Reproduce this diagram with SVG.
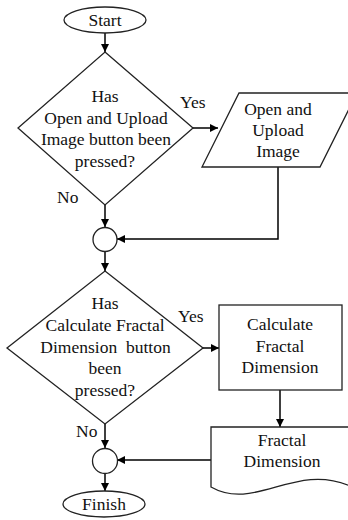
<svg xmlns="http://www.w3.org/2000/svg" width="348" height="520" viewBox="0 0 348 520">
<defs>
<marker id="ah" viewBox="0 0 10 10" refX="10" refY="5" markerWidth="9" markerHeight="8" markerUnits="userSpaceOnUse" orient="auto">
<path d="M0,0 L10,5 L0,10 z" fill="#000"/>
</marker>
<style>
.s{fill:#fff;stroke:#222;stroke-width:1.3}
.c{fill:none;stroke:#000;stroke-width:1.5;marker-end:url(#ah)}
text{font-family:'Liberation Serif',serif;font-size:17.5px;fill:#111}
.m{text-anchor:middle}
</style>
</defs>
<rect width="348" height="520" fill="#fff"/>
<g id="connectors">
<path class="c" d="M105,33 V52"/>
<path class="c" d="M193,128 H218"/>
<path class="c" d="M105,205 V227"/>
<path class="c" d="M278,167 V239 H117"/>
<path class="c" d="M105,251 V271"/>
<path class="c" d="M203,348 H219"/>
<path class="c" d="M280,390 V427"/>
<path class="c" d="M105,424 V448"/>
<path class="c" d="M211,460 H117"/>
<path class="c" d="M105,473 V491"/>
</g>
<g id="start">
<ellipse class="s" cx="105" cy="20" rx="41" ry="13"/>
<text class="m" x="105" y="26">Start</text>
</g>
<g id="decision1">
<polygon class="s" points="105,52 193,128 105,205 18,128"/>
<text class="m" x="105" y="102">Has</text>
<text class="m" x="106" y="123.5">Open and Upload</text>
<text class="m" x="106" y="145">Image button been</text>
<text class="m" x="105" y="166.5">pressed?</text>
</g>
<text x="180" y="108">Yes</text>
<text x="57" y="203">No</text>
<g id="openUpload">
<polygon class="s" points="239,93 357,93 320,167 202,167"/>
<text class="m" x="278" y="115">Open and</text>
<text class="m" x="278" y="136">Upload</text>
<text class="m" x="278" y="157">Image</text>
</g>
<g id="merge1">
<circle class="s" cx="105" cy="239.5" r="12"/>
</g>
<g id="decision2">
<polygon class="s" points="105,271 203,348 105,424 7,348"/>
<text class="m" x="105" y="309">Has</text>
<text class="m" x="105" y="331">Calculate Fractal</text>
<text class="m" x="105.5" y="352.5">Dimension&#160; button</text>
<text class="m" x="105" y="374">been</text>
<text class="m" x="105" y="395.5">pressed?</text>
</g>
<text x="178" y="322">Yes</text>
<text x="76" y="437">No</text>
<g id="calculate">
<rect class="s" x="219" y="305" width="123" height="85"/>
<text class="m" x="280" y="330">Calculate</text>
<text class="m" x="280" y="351.5">Fractal</text>
<text class="m" x="280" y="373">Dimension</text>
</g>
<g id="fractalDimension">
<path class="s" d="M211,427 H360 V486 L350,486 C295,462 255,512 211,487 Z"/>
<text class="m" x="282" y="446">Fractal</text>
<text class="m" x="282" y="467">Dimension</text>
</g>
<g id="merge2">
<circle class="s" cx="105" cy="461" r="12.5"/>
</g>
<g id="finish">
<ellipse class="s" cx="104" cy="504" rx="41" ry="13"/>
<text class="m" x="104" y="510">Finish</text>
</g>
</svg>
